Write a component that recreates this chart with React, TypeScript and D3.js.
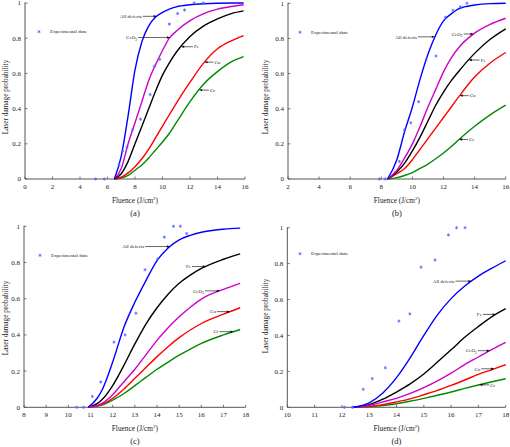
import React from "react";
import * as d3 from "d3";

// ---------- data ----------
const yTickValues = [0, 0.2, 0.4, 0.6, 0.8, 1];
const yTickLabels = ["0", "0.2", "0.4", "0.6", "0.8", "1"];

// panel (a)
const aTicks = [0, 2, 4, 6, 8, 10, 12, 14, 16];
const aFluence = [6.5, 7, 7.5, 8, 8.5, 9, 9.5, 10, 10.5, 11, 12, 13, 14, 15, 15.9];
const aAllDefects = [0, 0.13, 0.36, 0.62, 0.78, 0.87, 0.92, 0.947, 0.965, 0.978, 0.99, 0.996, 0.999, 1, 1];
const aCeO2 = [0, 0.06, 0.2, 0.32, 0.44, 0.56, 0.65, 0.73, 0.8, 0.84, 0.9, 0.94, 0.965, 0.98, 0.99];
const aFe = [0, 0.03, 0.1, 0.2, 0.3, 0.4, 0.5, 0.59, 0.66, 0.72, 0.81, 0.87, 0.91, 0.94, 0.955];
const aCu = [0, 0.01, 0.035, 0.07, 0.115, 0.17, 0.235, 0.3, 0.365, 0.43, 0.55, 0.66, 0.74, 0.785, 0.815];
const aCr = [0, 0.005, 0.02, 0.05, 0.08, 0.12, 0.165, 0.21, 0.26, 0.32, 0.44, 0.54, 0.61, 0.665, 0.695];
const aExpFluence = [5.14, 5.77, 6.84, 7.1, 7.42, 7.83, 8.4, 9.1, 9.4, 9.8, 10.5, 11.1, 11.6, 12.3, 12.97];
const aExpProb = [0, 0, 0.08, 0.16, 0.18, 0.28, 0.34, 0.48, 0.64, 0.68, 0.88, 0.94, 0.96, 1, 1];

// panel (b)
const bTicks = [2, 4, 6, 8, 10, 12, 14, 16];
const bFluence = [8.4, 9, 9.5, 10, 10.5, 11, 11.5, 12, 12.5, 13, 14, 15, 16];
const bAllDefects = [0, 0.11, 0.27, 0.41, 0.57, 0.71, 0.82, 0.9, 0.94, 0.97, 0.99, 0.998, 1];
const bCeO2 = [0, 0.05, 0.12, 0.2, 0.3, 0.41, 0.51, 0.61, 0.69, 0.75, 0.83, 0.88, 0.915];
const bFe = [0, 0.04, 0.09, 0.16, 0.24, 0.33, 0.42, 0.495, 0.56, 0.615, 0.715, 0.795, 0.855];
const bCu = [0, 0.03, 0.06, 0.11, 0.17, 0.23, 0.29, 0.35, 0.41, 0.47, 0.58, 0.66, 0.72];
const bCr = [0, 0.008, 0.02, 0.036, 0.06, 0.085, 0.115, 0.148, 0.185, 0.225, 0.3, 0.365, 0.42];
const bExpFluence = [7.88, 8.25, 9.17, 9.49, 9.9, 10.4, 10.89, 11.52, 12.12, 12.61, 13.08, 13.51];
const bExpProb = [0, 0, 0.1, 0.28, 0.32, 0.44, 0.68, 0.7, 0.92, 0.96, 0.98, 1];

// panel (c)
const cTicks = [8, 9, 10, 11, 12, 13, 14, 15, 16, 17, 18];
const cFluence = [10.9, 11.3, 11.5, 12, 12.5, 13, 13.5, 14, 14.5, 15, 15.5, 16, 17, 17.75];
const cAllDefects = [0, 0.05, 0.09, 0.25, 0.44, 0.58, 0.7, 0.81, 0.88, 0.925, 0.95, 0.967, 0.984, 0.99];
const cFe = [0, 0.02, 0.04, 0.12, 0.23, 0.35, 0.46, 0.55, 0.625, 0.685, 0.73, 0.767, 0.818, 0.848];
const cCeO2 = [0, 0.01, 0.02, 0.07, 0.14, 0.21, 0.29, 0.37, 0.44, 0.5, 0.553, 0.598, 0.652, 0.685];
const cCu = [0, 0.008, 0.015, 0.05, 0.1, 0.16, 0.22, 0.28, 0.335, 0.385, 0.427, 0.463, 0.515, 0.55];
const cCr = [0, 0.006, 0.012, 0.04, 0.075, 0.12, 0.165, 0.21, 0.25, 0.288, 0.322, 0.353, 0.4, 0.43];
const cExpFluence = [10.38, 10.68, 11.08, 11.46, 12.06, 12.56, 13.05, 13.46, 14.03, 14.33, 14.74, 15.05, 15.34];
const cExpProb = [0, 0, 0.06, 0.14, 0.36, 0.4, 0.52, 0.76, 0.82, 0.94, 1, 1, 0.96];

// panel (d)
const dTicks = [10, 11, 12, 13, 14, 15, 16, 17, 18];
const dFluence = [12.4, 13, 13.5, 14, 14.5, 15, 15.5, 16, 16.5, 17, 17.5, 18];
const dAllDefects = [0, 0.025, 0.08, 0.165, 0.275, 0.4, 0.515, 0.605, 0.675, 0.73, 0.775, 0.816];
const dFe = [0, 0.015, 0.045, 0.085, 0.13, 0.185, 0.252, 0.32, 0.39, 0.45, 0.505, 0.549];
const dCeO2 = [0, 0.01, 0.03, 0.05, 0.077, 0.11, 0.147, 0.19, 0.238, 0.28, 0.322, 0.362];
const dCu = [0, 0.005, 0.015, 0.03, 0.047, 0.07, 0.094, 0.122, 0.152, 0.183, 0.21, 0.237];
const dCr = [0, 0.004, 0.01, 0.02, 0.034, 0.05, 0.067, 0.085, 0.105, 0.124, 0.142, 0.159];
const dExpFluence = [12.09, 12.39, 12.78, 13.11, 13.59, 14.09, 14.49, 14.9, 15.41, 15.9, 16.2, 16.51];
const dExpProb = [0, 0, 0.1, 0.16, 0.22, 0.48, 0.52, 0.78, 0.82, 0.96, 1, 1];

const seriesColors: Record<string, string> = {
  "All defects": "#0000ff",
  CeO2: "#cc00cc",
  Fe: "#000000",
  Cu: "#ff0000",
  Cr: "#008a00",
};

// ---------- layout / config ----------
const FONT = "'Liberation Serif', 'Times New Roman', serif";

type Ann = { name: string; x: number; dir: "left" | "right"; len: number };

const panels = [
  {
    tag: "(a)", left: 25, right: 245, top: 3, bottom: 179, domain: [0, 16], ticks: aTicks,
    fluence: aFluence, series: { "All defects": aAllDefects, CeO2: aCeO2, Fe: aFe, Cu: aCu, Cr: aCr } as Record<string, number[]>,
    expX: aExpFluence, expY: aExpProb, legend: [39, 31.7], yTitle: [5, 97],
    anns: [
      { name: "All defects", x: 9.58, dir: "right", len: 14 },
      { name: "CeO2", x: 10.55, dir: "right", len: 32 },
      { name: "Fe", x: 11.35, dir: "left", len: 12 },
      { name: "Cu", x: 13.05, dir: "left", len: 9 },
      { name: "Cr", x: 12.65, dir: "left", len: 10 },
    ] as Ann[],
  },
  {
    tag: "(b)", left: 288, right: 505.7, top: 3.3, bottom: 179, domain: [2, 16], ticks: bTicks,
    fluence: bFluence, series: { "All defects": bAllDefects, CeO2: bCeO2, Fe: bFe, Cu: bCu, Cr: bCr } as Record<string, number[]>,
    expX: bExpFluence, expY: bExpProb, legend: [300, 32.3], yTitle: [265.5, 97],
    anns: [
      { name: "All defects", x: 11.45, dir: "right", len: 17 },
      { name: "CeO2", x: 13.94, dir: "right", len: 10 },
      { name: "Fe", x: 13.62, dir: "left", len: 11 },
      { name: "Cu", x: 13.04, dir: "left", len: 9 },
      { name: "Cr", x: 13.0, dir: "left", len: 9 },
    ] as Ann[],
  },
  {
    tag: "(c)", left: 24, right: 245.7, top: 226.3, bottom: 407.3, domain: [8, 18], ticks: cTicks,
    fluence: cFluence, series: { "All defects": cAllDefects, CeO2: cCeO2, Fe: cFe, Cu: cCu, Cr: cCr } as Record<string, number[]>,
    expX: cExpFluence, expY: cExpProb, legend: [40, 255.3], yTitle: [5, 318],
    anns: [
      { name: "All defects", x: 14.59, dir: "right", len: 25 },
      { name: "Fe", x: 16.21, dir: "right", len: 14 },
      { name: "CeO2", x: 16.84, dir: "right", len: 15 },
      { name: "Cu", x: 17.29, dir: "right", len: 13 },
      { name: "Cr", x: 17.45, dir: "right", len: 14 },
    ] as Ann[],
  },
  {
    tag: "(d)", left: 287.3, right: 505.7, top: 227.7, bottom: 407.3, domain: [10, 18], ticks: dTicks,
    fluence: dFluence, series: { "All defects": dAllDefects, CeO2: dCeO2, Fe: dFe, Cu: dCu, Cr: dCr } as Record<string, number[]>,
    expX: dExpFluence, expY: dExpProb, legend: [300, 253.7], yTitle: [265.5, 316],
    anns: [
      { name: "All defects", x: 16.75, dir: "right", len: 16 },
      { name: "Fe", x: 17.64, dir: "right", len: 13 },
      { name: "CeO2", x: 17.42, dir: "right", len: 12 },
      { name: "Cu", x: 17.58, dir: "right", len: 13 },
      { name: "Cr", x: 17.03, dir: "left", len: 10 },
    ] as Ann[],
  },
];

function Label({ name }: { name: string }) {
  if (name === "CeO2")
    return (
      <>
        <tspan>CeO</tspan>
        <tspan dy={1.6} fontSize={3.6}>2</tspan>
      </>
    );
  return <>{name}</>;
}

function Panel({ p }: { p: (typeof panels)[number] }) {
  const x = d3.scaleLinear().domain(p.domain).range([p.left, p.right]);
  const y = d3.scaleLinear().domain([0, 1]).range([p.bottom, p.top]);
  const line = d3
    .line<[number, number]>()
    .x((d) => x(d[0]))
    .y((d) => y(d[1]))
    .curve(d3.curveMonotoneX);
  const star = d3.symbol().type(d3.symbolAsterisk).size(7)();
  const axisColor = "#555";
  const drawOrder = ["Cr", "Cu", "Fe", "CeO2", "All defects"];
  const interp = (name: string, xv: number) => {
    const f = d3.scaleLinear().domain(p.fluence).range(p.series[name]);
    return f(xv);
  };
  const markerColor = "#5566ff";
  return (
    <g>
      {/* axes */}
      <line x1={p.left} x2={p.right} y1={p.bottom} y2={p.bottom} stroke={axisColor} strokeWidth={1} />
      <line x1={p.left} x2={p.left} y1={p.bottom} y2={p.top - 0.5} stroke={axisColor} strokeWidth={1} />
      {p.ticks.map((t) => (
        <g key={"xt" + t}>
          <line x1={x(t)} x2={x(t)} y1={p.bottom} y2={p.bottom - 2.5} stroke={axisColor} strokeWidth={0.8} />
          <text x={x(t)} y={p.bottom + 10} fontSize={7} textAnchor="middle" fontFamily={FONT} fill="#222">
            {t}
          </text>
        </g>
      ))}
      {yTickValues.map((t, i) => (
        <g key={"yt" + t}>
          <line x1={p.left} x2={p.left + 2.5} y1={y(t)} y2={y(t)} stroke={axisColor} strokeWidth={0.8} />
          <text x={p.left - 4} y={y(t) + 2.4} fontSize={7} textAnchor="end" fontFamily={FONT} fill="#222">
            {yTickLabels[i]}
          </text>
        </g>
      ))}
      {/* titles */}
      <text x={(p.left + p.right) / 2} y={p.bottom + 23.5} fontSize={7.3} textAnchor="middle" fontFamily={FONT} fill="#222">
        Fluence (J/cm
        <tspan dy={-3} fontSize={5}>2</tspan>
        <tspan dy={3}>)</tspan>
      </text>
      <text x={(p.left + p.right) / 2} y={p.bottom + 36.5} fontSize={8.5} textAnchor="middle" fontFamily={FONT} fill="#222">
        {p.tag}
      </text>
      <text
        transform={`translate(${p.yTitle[0] + 2.5},${p.yTitle[1]}) rotate(-90)`}
        fontSize={7.3}
        textAnchor="middle"
        fontFamily={FONT}
        fill="#222"
      >
        Laser damage probability
      </text>
      {/* curves */}
      {drawOrder.map((name) => (
        <path
          key={name}
          d={line(p.fluence.map((f, i) => [f, p.series[name][i]] as [number, number])) || ""}
          fill="none"
          stroke={seriesColors[name]}
          strokeWidth={1.4}
        />
      ))}
      {/* experimental data */}
      {p.expX.map((f, i) => (
        <path
          key={"e" + i}
          d={star || ""}
          transform={`translate(${x(f)},${y(p.expY[i])})`}
          fill="none"
          stroke={markerColor}
          strokeWidth={0.8}
        />
      ))}
      {/* legend */}
      <path d={star || ""} transform={`translate(${p.legend[0]},${p.legend[1]})`} fill="none" stroke={markerColor} strokeWidth={0.8} />
      <text x={p.legend[0] + 11} y={p.legend[1] + 1.6} fontSize={5} fontFamily={FONT} fill="#222">
        Experimental data
      </text>
      {/* annotations */}
      {p.anns.map((a) => {
        const tx = x(a.x);
        const ty = y(interp(a.name, a.x));
        const sgn = a.dir === "right" ? 1 : -1;
        const tail = tx - sgn * a.len;
        const head = 3.2;
        return (
          <g key={"a" + a.name}>
            <line x1={tail} x2={tx - sgn * head} y1={ty} y2={ty} stroke="#000" strokeWidth={0.6} />
            <path d={`M${tx},${ty}L${tx - sgn * head},${ty - 1.2}L${tx - sgn * head},${ty + 1.2}Z`} fill="#000" />
            <text
              x={tail - sgn * 1}
              y={ty + 1.7}
              fontSize={5}
              textAnchor={a.dir === "right" ? "end" : "start"}
              fontFamily={FONT}
              fill="#222"
            >
              <Label name={a.name} />
            </text>
          </g>
        );
      })}
    </g>
  );
}

export default function App() {
  return (
    <svg
      width={510}
      height={447}
      style={{ position: "absolute", left: 0, top: 0, background: "#fff" }}
      xmlns="http://www.w3.org/2000/svg"
    >
      <rect width={510} height={447} fill="#fff" />
      {panels.map((p) => (
        <Panel key={p.tag} p={p} />
      ))}
    </svg>
  );
}
